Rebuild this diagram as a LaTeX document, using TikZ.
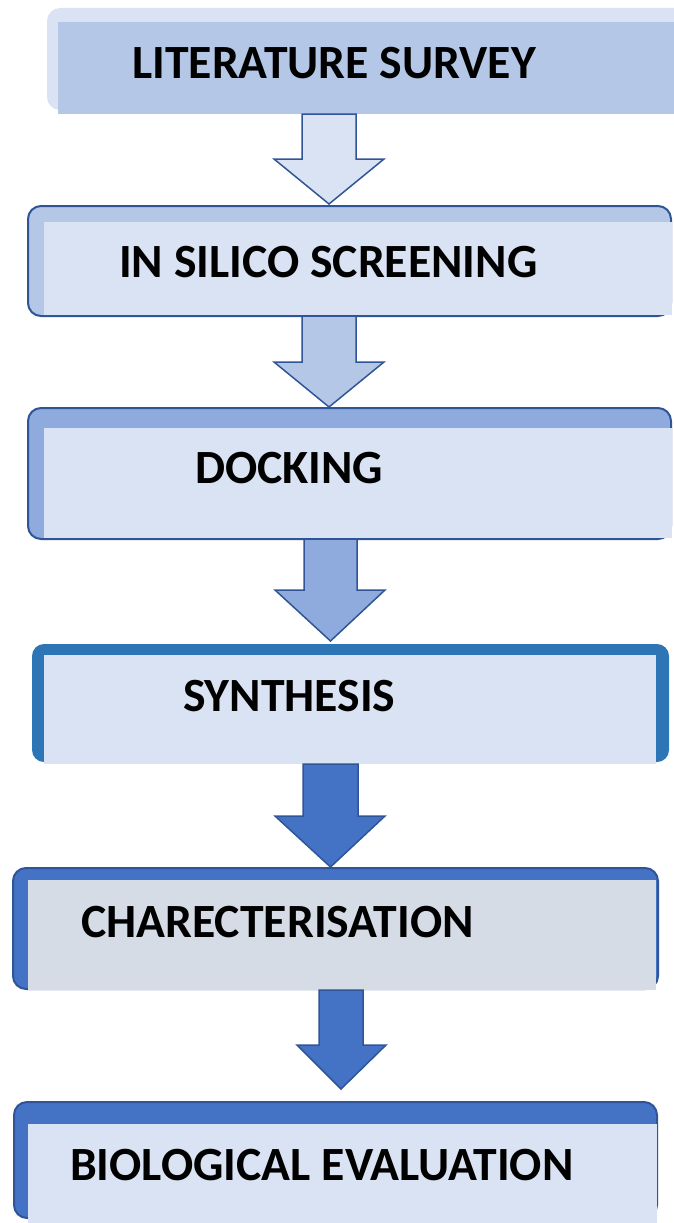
\documentclass[tikz,border=0pt]{standalone}
\usepackage{fontspec}
\setmainfont{Carlito}
\definecolor{c1}{HTML}{DAE3F3}
\definecolor{c2}{HTML}{B4C7E7}
\definecolor{c3}{HTML}{8FAADC}
\definecolor{c4}{HTML}{2E75B6}
\definecolor{c5}{HTML}{4472C4}
\definecolor{cg}{HTML}{D6DCE5}
\definecolor{edge}{HTML}{2F5597}
\tikzset{
  outerbox/.style={rounded corners=13pt, anchor=north west, inner sep=0pt, outer sep=0pt},
  label/.style={anchor=base west, inner sep=0pt, font=\fontsize{47.7}{52}\selectfont\bfseries, text=black},
  blockarrow/.style={draw=edge, line width=1.5pt, line join=miter}
}
\newcommand\mkbox[7]{% name, x1, y1, x2, y2, fill, draw
  \node[outerbox, fill=#6, draw=#7, line width=2pt, minimum width={(#4-#2)*1pt}, minimum height={(#5-#3)*1pt}] (#1) at (#2,#3) {};
}
\newcommand\mkarrow[8]{% sx1 sx2 top neck hx1 hx2 tip fill
  \draw[blockarrow, fill=#8] (#1,#3) -- (#2,#3) -- (#2,#4) -- (#6,#4) -- ({(#1+#2)/2},#7) -- (#5,#4) -- (#1,#4) -- cycle;
}
\begin{document}
\begin{tikzpicture}[x=1pt,y=-1pt]
\useasboundingbox (0,0) rectangle (674,1223);
\clip (0,0) rectangle (674,1223);
% Box 1
\node[outerbox, fill=c1, minimum width=660pt, minimum height=102pt] (b1) at (47,8) {};
\fill[c2] (58,22) rectangle (674,114);
\node[label] (t1) at (132,78) {LITERATURE SURVEY};
% Box 2
\mkbox{b2}{28}{206}{671}{316}{c2}{edge}
\fill[c1] (44,222) rectangle (672,315);
\node[label] (t2) at (119,277) {IN SILICO SCREENING};
% Box 3
\mkbox{b3}{28}{408}{671}{539}{c3}{edge}
\fill[c1] (44,428) rectangle (672,538);
\node[label] (t3) at (195,483) {DOCKING};
% Box 4
\node[outerbox, rounded corners=12pt, fill=c4, minimum width=637pt, minimum height=118pt] (b4) at (32,644) {};
\fill[c1] (44,655) rectangle (656,764);
\node[label] (t4) at (183,711) {SYNTHESIS};
% Box 5
\mkbox{b5}{13}{868}{658}{989}{c5}{edge}
\fill[cg] (28,880) rectangle (656,990);
\node[label] (t5) at (81,937) {CHARECTERISATION};
% Box 6
\mkbox{b6}{14}{1102}{657}{1218}{c5}{edge}
\fill[c1] (28,1124) rectangle (657,1223);
\node[label] (t6) at (70,1180) {BIOLOGICAL EVALUATION};
% Arrows
\mkarrow{302}{356}{114}{159}{274}{384}{204}{c1}
\mkarrow{302}{356}{316}{362}{274}{384}{407}{c2}
\mkarrow{304}{357}{539}{590}{275}{385}{641}{c3}
\mkarrow{303}{358}{764}{816}{275}{385}{867}{c5}
\mkarrow{319}{363}{990}{1045}{297}{386}{1089}{c5}
\end{tikzpicture}
\end{document}
